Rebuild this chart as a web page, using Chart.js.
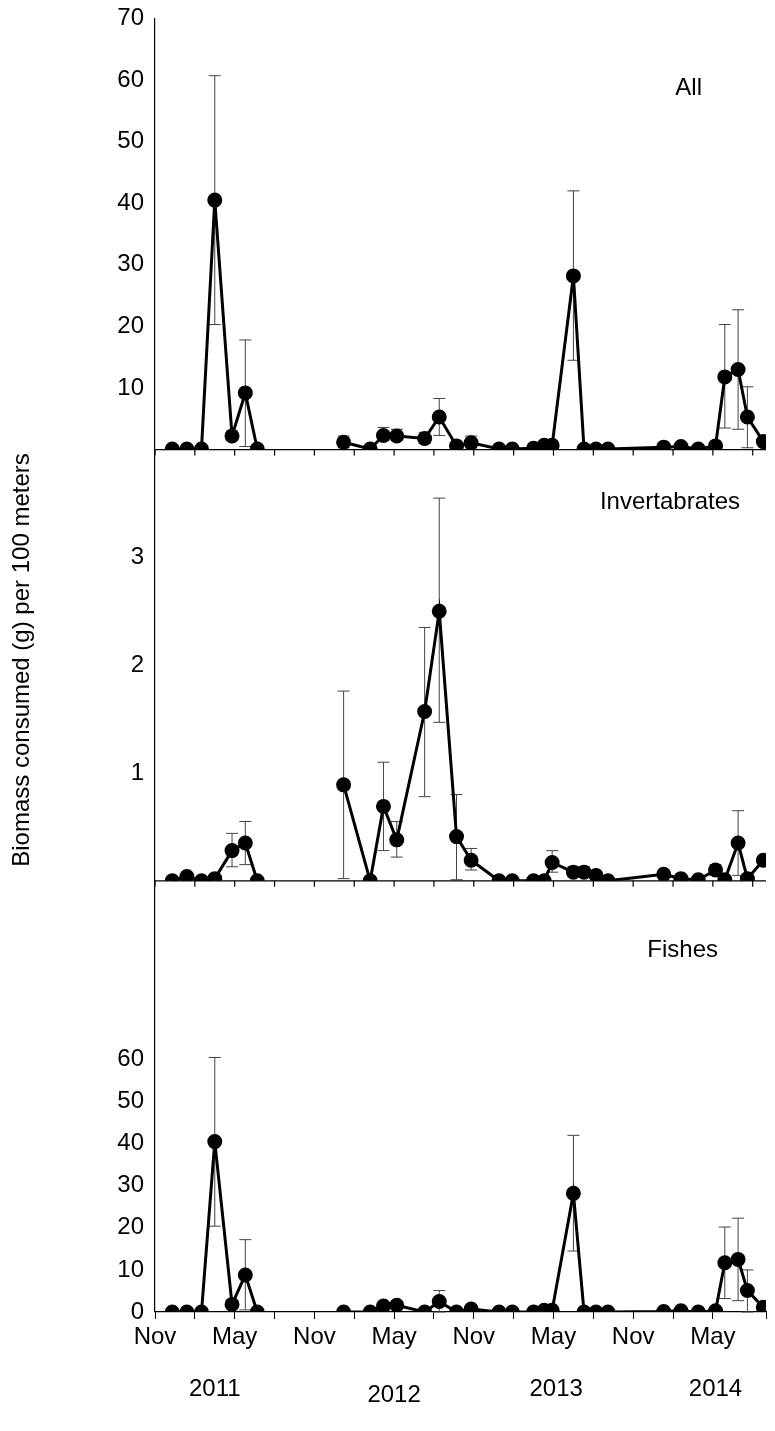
<!DOCTYPE html>
<html>
<head>
<meta charset="utf-8">
<script src="https://cdn.jsdelivr.net/npm/chart.js@4"></script>
<style>
  body { margin: 0; background: #fff; }
</style>
</head>
<body>
<canvas id="c" width="775" height="1431"></canvas>
<script>
// months since Nov 2010; the 8th entry is a gap (null values)
const monthsAll = [1.3, 2.4, 3.5, 4.5, 5.8, 6.8, 7.7, 8.0, 14.2, 16.2, 17.2, 18.2, 20.3, 21.4, 22.7, 23.8, 25.9, 26.9, 28.5, 29.3, 29.9, 31.5, 32.3, 33.2, 34.1, 38.3, 39.6, 40.9, 42.2, 42.9, 43.9, 44.6, 45.8];

const allVals = [0.1, 0.1, 0.1, 40.5, 2.2, 9.2, 0.1, null, 1.2, 0.1, 2.3, 2.2, 1.8, 5.3, 0.6, 1.1, 0.1, 0.1, 0.2, 0.7, 0.7, 28.2, 0.1, 0.1, 0.1, 0.4, 0.5, 0.1, 0.6, 11.8, 13.0, 5.3, 1.3];
const allHi  = [null, null, null, 60.7, 3.0, 17.8, null, null, 2.2, null, 3.6, 3.3, 2.8, 8.3, null, 2.2, null, null, null, null, null, 42.0, null, null, null, null, null, null, null, 20.3, 22.7, 10.2, null];
const allLo  = [null, null, null, 20.3, 1.5, 0.5, null, null, 0.3, null, 1.5, 1.5, 1.0, 2.3, null, 0.3, null, null, null, null, null, 14.5, null, null, null, null, null, null, null, 3.5, 3.3, 0.3, null];

const invVals = [0, 0.04, 0, 0.02, 0.28, 0.35, 0, null, 0.89, 0, 0.69, 0.38, 1.57, 2.5, 0.41, 0.19, 0, 0, 0, 0, 0.17, 0.08, 0.08, 0.05, 0, 0.06, 0.02, 0.01, 0.1, 0.01, 0.35, 0.02, 0.19];
const invHi  = [null, null, null, null, 0.44, 0.55, null, null, 1.76, null, 1.1, 0.55, 2.35, 3.55, 0.8, 0.3, null, null, null, null, 0.28, 0.13, 0.13, null, null, null, null, null, 0.15, null, 0.65, null, null];
const invLo  = [null, null, null, null, 0.13, 0.15, null, null, 0.02, null, 0.28, 0.22, 0.78, 1.47, 0.01, 0.1, null, null, null, null, 0.08, 0.04, 0.04, null, null, null, null, null, 0.05, null, 0.05, null, null];

const fishVals = [0, 0, 0, 40.5, 1.8, 8.8, 0, null, 0, 0, 1.4, 1.6, 0, 2.5, 0, 0.7, 0, 0, 0, 0.4, 0.4, 28.2, 0, 0, 0, 0.1, 0.3, 0, 0.3, 11.7, 12.5, 5.1, 1.1];
const fishHi = [null, null, null, 60.5, 2.5, 17.2, null, null, null, null, 2.3, 2.3, null, 5.1, null, null, null, null, null, null, null, 42.0, null, null, null, null, null, null, null, 20.2, 22.3, 10.0, null];
const fishLo = [null, null, null, 20.4, 1.2, 0.5, null, null, null, null, 0.6, 0.8, null, 0, null, null, null, null, null, null, null, 14.5, null, null, null, null, null, null, null, 3.2, 2.7, 0, null];

const panelNames = ["All", "Invertabrates", "Fishes"];
const monthLabels = { 0: "Nov", 6: "May", 12: "Nov", 18: "May", 24: "Nov", 30: "May", 36: "Nov", 42: "May" };
const years = [["2011", 4.5, 0], ["2012", 18, 6], ["2013", 30.2, 0], ["2014", 42.2, 0]];
const y1Ticks = [10, 20, 30, 40, 50, 60, 70];
const y2Ticks = [1, 2, 3];
const y3Ticks = [0, 10, 20, 30, 40, 50, 60];

const toXY = vals => vals.map((v, i) => ({ x: monthsAll[i], y: v }));
const FONT = "'Liberation Sans', Arial, sans-serif";

function ds(vals, hi, lo, axis) {
  return {
    data: toXY(vals), yAxisID: axis, hi, lo,
    borderColor: "#000", backgroundColor: "#000", borderWidth: 3,
    pointRadius: 6, pointHoverRadius: 6, spanGaps: false, tension: 0
  };
}

const errorBars = {
  id: "errorBars",
  beforeDatasetsDraw(chart) {
    const ctx = chart.ctx, xs = chart.scales.x;
    ctx.save();
    ctx.strokeStyle = "#444"; ctx.lineWidth = 1;
    chart.data.datasets.forEach(d => {
      const ys = chart.scales[d.yAxisID];
      d.data.forEach((p, i) => {
        if (p.y == null) return;
        const px = xs.getPixelForValue(p.x);
        [d.hi[i], d.lo[i]].forEach(v => {
          if (v == null) return;
          const py = ys.getPixelForValue(v), y0 = ys.getPixelForValue(p.y);
          ctx.beginPath(); ctx.moveTo(px, y0); ctx.lineTo(px, py);
          ctx.moveTo(px - 6, py); ctx.lineTo(px + 6, py); ctx.stroke();
        });
      });
    });
    ctx.restore();
  },
  afterDraw(chart) {
    const ctx = chart.ctx, xs = chart.scales.x, a = chart.chartArea;
    ctx.save();
    ctx.fillStyle = "#000"; ctx.strokeStyle = "#000"; ctx.lineWidth = 1.2;
    ["y1", "y2"].forEach(id => {
      const y = chart.scales[id].getPixelForValue(0);
      ctx.beginPath(); ctx.moveTo(a.left, y); ctx.lineTo(a.right, y); ctx.stroke();
      for (let m = 0; m <= 46; m += 3) {
        const x = xs.getPixelForValue(m);
        ctx.beginPath(); ctx.moveTo(x, y); ctx.lineTo(x, y + 6); ctx.stroke();
      }
    });
    ctx.font = "24px " + FONT;
    ctx.textAlign = "right"; ctx.textBaseline = "middle";
    ctx.fillText(panelNames[0], 702, 88);
    ctx.fillText(panelNames[1], 740, 502);
    ctx.fillText(panelNames[2], 718, 950);
    ctx.textAlign = "center";
    years.forEach(([t, m, dy]) => ctx.fillText(t, xs.getPixelForValue(m), 1389 + dy));
    ctx.translate(22, 660); ctx.rotate(-Math.PI / 2);
    ctx.fillText("Biomass consumed (g) per 100 meters", 0, 0);
    ctx.restore();
  }
};

function yAxis(max, shown) {
  return {
    type: "linear", position: "left", stack: "p", stackWeight: 1,
    min: 0, max: max,
    border: { color: "#000", width: 1.2 },
    grid: { display: false, drawOnChartArea: false, drawTicks: true, tickLength: 7, tickColor: "#000" },
    ticks: { autoSkip: false, color: "#000", font: { size: 24, family: FONT }, padding: 4 },
    afterBuildTicks: s => { s.ticks = shown.map(v => ({ value: v })); },
    afterFit: s => { s.width = 155; }
  };
}

new Chart(document.getElementById("c"), {
  type: "line",
  data: { datasets: [ds(fishVals, fishHi, fishLo, "y3"), ds(invVals, invHi, invLo, "y2"), ds(allVals, allHi, allLo, "y1")] },
  options: {
    responsive: false, animation: false,
    layout: { padding: { top: 18, right: 5, left: 0, bottom: 0 } },
    plugins: { legend: { display: false }, tooltip: { enabled: false } },
    scales: {
      x: {
        type: "linear", min: 0, max: 46,
        border: { color: "#000", width: 1.2 },
        grid: { drawOnChartArea: false, tickLength: 7, tickColor: "#000" },
        ticks: {
          stepSize: 3, autoSkip: false, maxRotation: 0, color: "#000",
          font: { size: 24, family: FONT }, padding: 4,
          callback: v => monthLabels[v] || ""
        },
        afterFit: s => { s.height = 119; }
      },
      y3: yAxis(102.5, y3Ticks),
      y2: yAxis(4, y2Ticks),
      y1: yAxis(70, y1Ticks)
    }
  },
  plugins: [errorBars]
});
</script>
</body>
</html>
